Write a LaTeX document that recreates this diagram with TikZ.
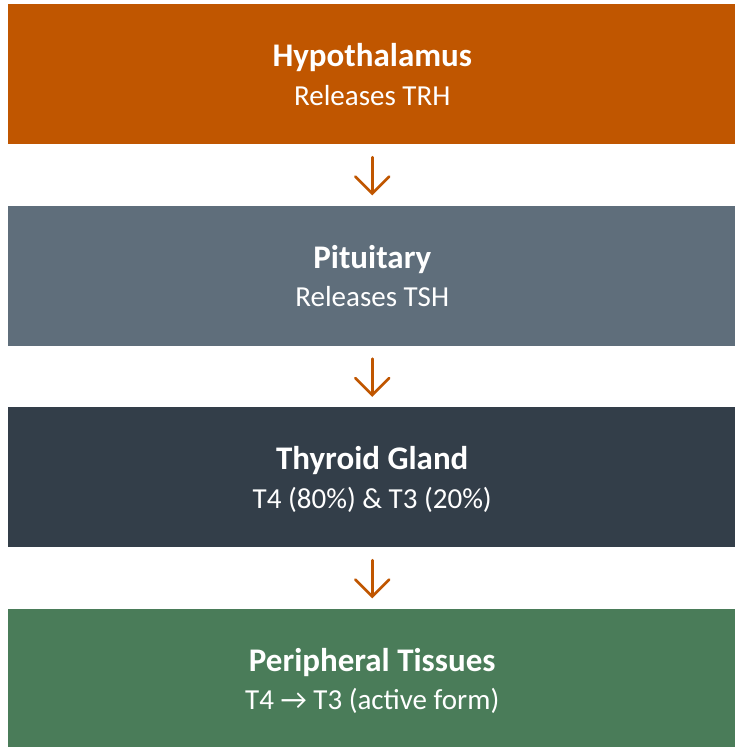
\documentclass[tikz,border=0pt]{standalone}
\usepackage{fontspec}
\setmainfont{Carlito}
\usetikzlibrary{arrows.meta}
\definecolor{corange}{HTML}{C05600}
\definecolor{cslate}{HTML}{5F6E7B}
\definecolor{cdark}{HTML}{333E49}
\definecolor{cgreen}{HTML}{4A7C59}
\tikzset{
  stage/.style={draw=none, fill=#1, minimum width=729.5pt, minimum height=140pt, inner sep=0pt},
  ttl/.style={anchor=base, text=white, font=\fontsize{33}{38}\selectfont\bfseries, inner sep=0pt},
  sub/.style={anchor=base, text=white, font=\fontsize{29}{34}\selectfont, inner sep=0pt},
  flow/.style={draw=corange, line width=2.6pt, line cap=round, line join=round,
    -{Straight Barb[length=17pt, width=34pt, line width=2.6pt, line cap=round]}}
}
\begin{document}
\begin{tikzpicture}[x=1pt,y=1pt]
\useasboundingbox (0,0) rectangle (734,-747);
\fill[white] (0,0) rectangle (734,-747);
\node[stage=corange] (hyp) at (372.25,-74) {};
\node[stage=cslate] (pit) at (372.25,-275.5) {};
\node[stage=cdark] (thy) at (372.25,-477) {};
\node[stage=cgreen] (per) at (372.25,-678.5) {};
\foreach \b/\t/\s in {hyp/Hypothalamus/Releases TRH, pit/Pituitary/Releases TSH, thy/Thyroid Gland/T4 (80\%) \& T3 (20\%), per/Peripheral Tissues/T4 → T3 (active form)}{
  \node[ttl] (\b-t) at ([yshift=7.3pt]\b.center) {\t};
  \node[sub] (\b-s) at ([yshift=-31pt]\b.center) {\s};
}
\draw[flow] ([yshift=-13pt]hyp.south) -- ([yshift=10pt]pit.north);
\draw[flow] ([yshift=-13pt]pit.south) -- ([yshift=10pt]thy.north);
\draw[flow] ([yshift=-13pt]thy.south) -- ([yshift=10pt]per.north);
\end{tikzpicture}
\end{document}
